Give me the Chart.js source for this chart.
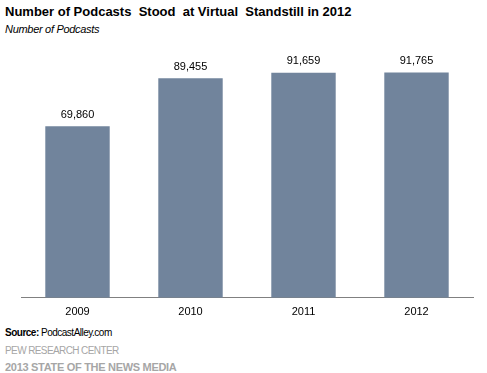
<!DOCTYPE html>
<html lang="en">
<head>
    <meta charset="UTF-8">
    <title>Number of Podcasts</title>
    <script src="https://cdn.jsdelivr.net/npm/chart.js"></script>
    <style>
        body { margin: 0; background: #fff; font-family: "Liberation Sans", Arial, sans-serif; }
        #wrap { position: relative; width: 487px; height: 373px; overflow: hidden; }
        .txt { position: absolute; left: 5px; white-space: pre; }
        #title { top: 4px; font-size: 13px; font-weight: bold; color: #000; }
        #sub { top: 23px; font-size: 11px; font-style: italic; color: #000; letter-spacing: -0.3px; }
        #src { top: 327px; font-size: 10px; color: #000; letter-spacing: -0.5px; }
        #org { top: 345px; font-size: 10px; color: #a6a6a6; letter-spacing: -0.6px; }
        #rep { top: 361px; font-size: 11px; font-weight: bold; color: #a6a6a6; letter-spacing: -0.3px; }
        #box { position: absolute; left: 0; top: 40px; width: 487px; height: 287px; }
    </style>
</head>
<body>
<div id="wrap">
    <div class="txt" id="title">Number of Podcasts  Stood  at Virtual  Standstill in 2012</div>
    <div class="txt" id="sub">Number of Podcasts</div>
    <div id="box"><canvas id="myChart"></canvas></div>
    <div class="txt" id="src"><b>Source:</b> PodcastAlley.com</div>
    <div class="txt" id="org">PEW RESEARCH CENTER</div>
    <div class="txt" id="rep">2013 STATE OF THE NEWS MEDIA</div>
</div>
<script>
    const years = ['2009', '2010', '2011', '2012'];
    const podcasts = [69860, 89455, 91659, 91765];

    // 数値ラベルを棒の上に描く
    const valueLabels = {
        id: 'valueLabels',
        afterDatasetsDraw(chart) {
            const ctx = chart.ctx;
            const meta = chart.getDatasetMeta(0);
            ctx.save();
            ctx.font = '11px "Liberation Sans", Arial, sans-serif';
            ctx.fillStyle = '#000';
            ctx.textAlign = 'center';
            ctx.textBaseline = 'bottom';
            meta.data.forEach((bar, i) => {
                ctx.fillText(podcasts[i].toLocaleString('en-US'), bar.x, bar.y - 6);
            });
            ctx.restore();
        }
    };

    new Chart(document.getElementById('myChart'), {
        type: 'bar',
        data: {
            labels: years,
            datasets: [{
                data: podcasts,
                backgroundColor: '#71849c',
                categoryPercentage: 1.0,
                barPercentage: 0.57
            }]
        },
        options: {
            responsive: true,
            maintainAspectRatio: false,
            animation: false,
            layout: { padding: { left: 21, right: 14, top: 0, bottom: 0 } },
            plugins: { legend: { display: false }, tooltip: { enabled: false } },
            scales: {
                x: {
                    grid: { display: false, drawTicks: false },
                    border: { display: true, color: '#808080', width: 1 },
                    ticks: {
                        color: '#000',
                        padding: 8,
                        font: { family: '"Liberation Sans", Arial, sans-serif', size: 11 }
                    }
                },
                y: {
                    display: false,
                    min: 0,
                    max: 105000
                }
            }
        },
        plugins: [valueLabels]
    });
</script>
</body>
</html>
